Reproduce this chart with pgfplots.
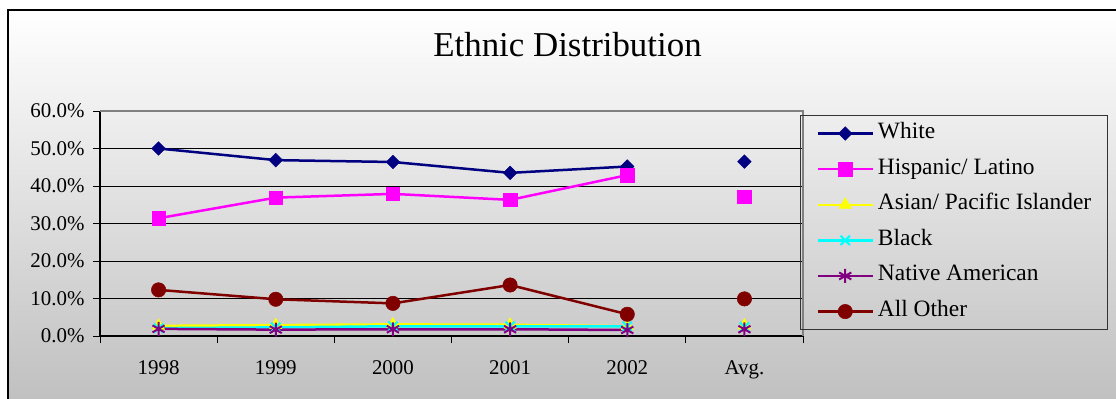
\documentclass[border=0pt]{standalone}
\usepackage{fontspec}
\setmainfont{Liberation Serif}
\usepackage{pgfplots}
\pgfplotsset{compat=1.18}

\definecolor{cWhite}{RGB}{0,0,128}
\definecolor{cHisp}{RGB}{255,0,255}
\definecolor{cAsian}{RGB}{255,255,0}
\definecolor{cBlack}{RGB}{0,255,255}
\definecolor{cNative}{RGB}{128,0,128}
\definecolor{cOther}{RGB}{128,0,0}
\definecolor{bgMid}{RGB}{231,231,231}
\definecolor{bgBot}{RGB}{190,190,190}
\definecolor{frameGray}{RGB}{128,128,128}

\begin{document}
\begin{tikzpicture}[x=1bp,y=1bp]
\useasboundingbox (0,0) rectangle (1116,398);
\begin{scope}
  \clip (0,0) rectangle (1116,398);
  \fill[white] (0,0) rectangle (1116,398);
  \shade[top color=white, middle color=bgMid, bottom color=bgBot] (8,-15) rectangle (1130,388);
  \draw[line width=1.5bp] (8,-15) rectangle (1130,388);
\end{scope}

\node[anchor=base, font=\fontsize{35}{40}\selectfont] at (567.5,342) {Ethnic Distribution};

\begin{axis}[
  at={(100bp,62bp)}, anchor=south west,
  scale only axis, width=703bp, height=225bp,
  xmin=-0.5, xmax=5.5, ymin=0, ymax=60,
  clip=false,
  axis lines=left,
  axis line style={-, black, line width=1.2bp},
  tick align=outside,
  major tick length=7bp,
  tick style={black, line width=0.9bp},
  xtick={-0.5,0.5,...,5.5},
  xticklabels={},
  extra x ticks={0,1,2,3,4,5},
  extra x tick labels={1998,1999,2000,2001,2002,Avg.},
  extra x tick style={tick style={draw=none}, grid=none},
  ytick={0,10,20,30,40,50,60},
  yticklabels={0.0\%,10.0\%,20.0\%,30.0\%,40.0\%,50.0\%,60.0\%},
  ymajorgrids=true,
  grid style={black, line width=0.9bp},
  tick label style={font=\fontsize{21}{24}\selectfont, text=black},
  xticklabel style={yshift=-14bp},
  yticklabel style={xshift=-5bp},
  unbounded coords=jump,
  every axis plot/.append style={line width=2.5bp},
  legend cell align=left,
  legend style={at={(0.9957,0.982)}, anchor=north west,
    fill=none, draw=black!80, line width=1bp,
    font=\fontsize{23.5}{27}\selectfont,
    inner xsep=16bp, inner ysep=8bp,
    row sep=15.6bp,
    nodes={inner sep=0bp, text height=15bp, text depth=5bp},
    /tikz/every odd column/.append style={column sep=4bp}},
  legend image code/.code={\draw[mark repeat=2,mark phase=2] plot coordinates {(0bp,0bp) (27.5bp,0bp) (55bp,0bp)};},
  after end axis/.code={
    \draw[frameGray, line width=2bp] (rel axis cs:0,1) -- (rel axis cs:1,1) -- (rel axis cs:1,0);
  },
]
% White
\addplot[color=cWhite, mark=square*, mark size=4.8bp, mark options={rotate=45, solid, line width=0.5bp}]
  coordinates {(0,50.0) (1,46.9) (2,46.4) (3,43.5) (4,45.2) (4.5,nan) (5,46.5)};
\addlegendentry{White}
% Hispanic / Latino
\addplot[color=cHisp, mark=square*, mark size=6.8bp, mark options={solid, line width=0.5bp}]
  coordinates {(0,31.4) (1,36.9) (2,37.9) (3,36.3) (4,42.9) (4.5,nan) (5,37.1)};
\addlegendentry{Hispanic/ Latino}
% Asian / Pacific Islander
\addplot[color=cAsian, mark=triangle*, mark size=7bp, mark options={solid, line width=0.5bp}]
  coordinates {(0,2.7) (1,2.9) (2,3.1) (3,3.0) (4,2.6) (4.5,nan) (5,2.8)};
\addlegendentry{Asian/ Pacific Islander}
% Black
\addplot[color=cBlack, mark=x, mark size=6.5bp, mark options={solid, line width=2bp}]
  coordinates {(0,2.1) (1,2.3) (2,2.6) (3,2.6) (4,2.6) (4.5,nan) (5,2.4)};
\addlegendentry{Black}
% Native American
\addplot[color=cNative, mark=asterisk, mark size=7bp, mark options={solid, line width=2bp}]
  coordinates {(0,1.9) (1,1.7) (2,1.8) (3,1.8) (4,1.6) (4.5,nan) (5,1.8)};
\addlegendentry{Native American}
% All other
\addplot[color=cOther, mark=*, mark size=7.2bp, mark options={solid, line width=0.5bp}]
  coordinates {(0,12.3) (1,9.8) (2,8.7) (3,13.6) (4,5.8) (4.5,nan) (5,9.9)};
\addlegendentry{All Other}
\end{axis}
\end{tikzpicture}
\end{document}
